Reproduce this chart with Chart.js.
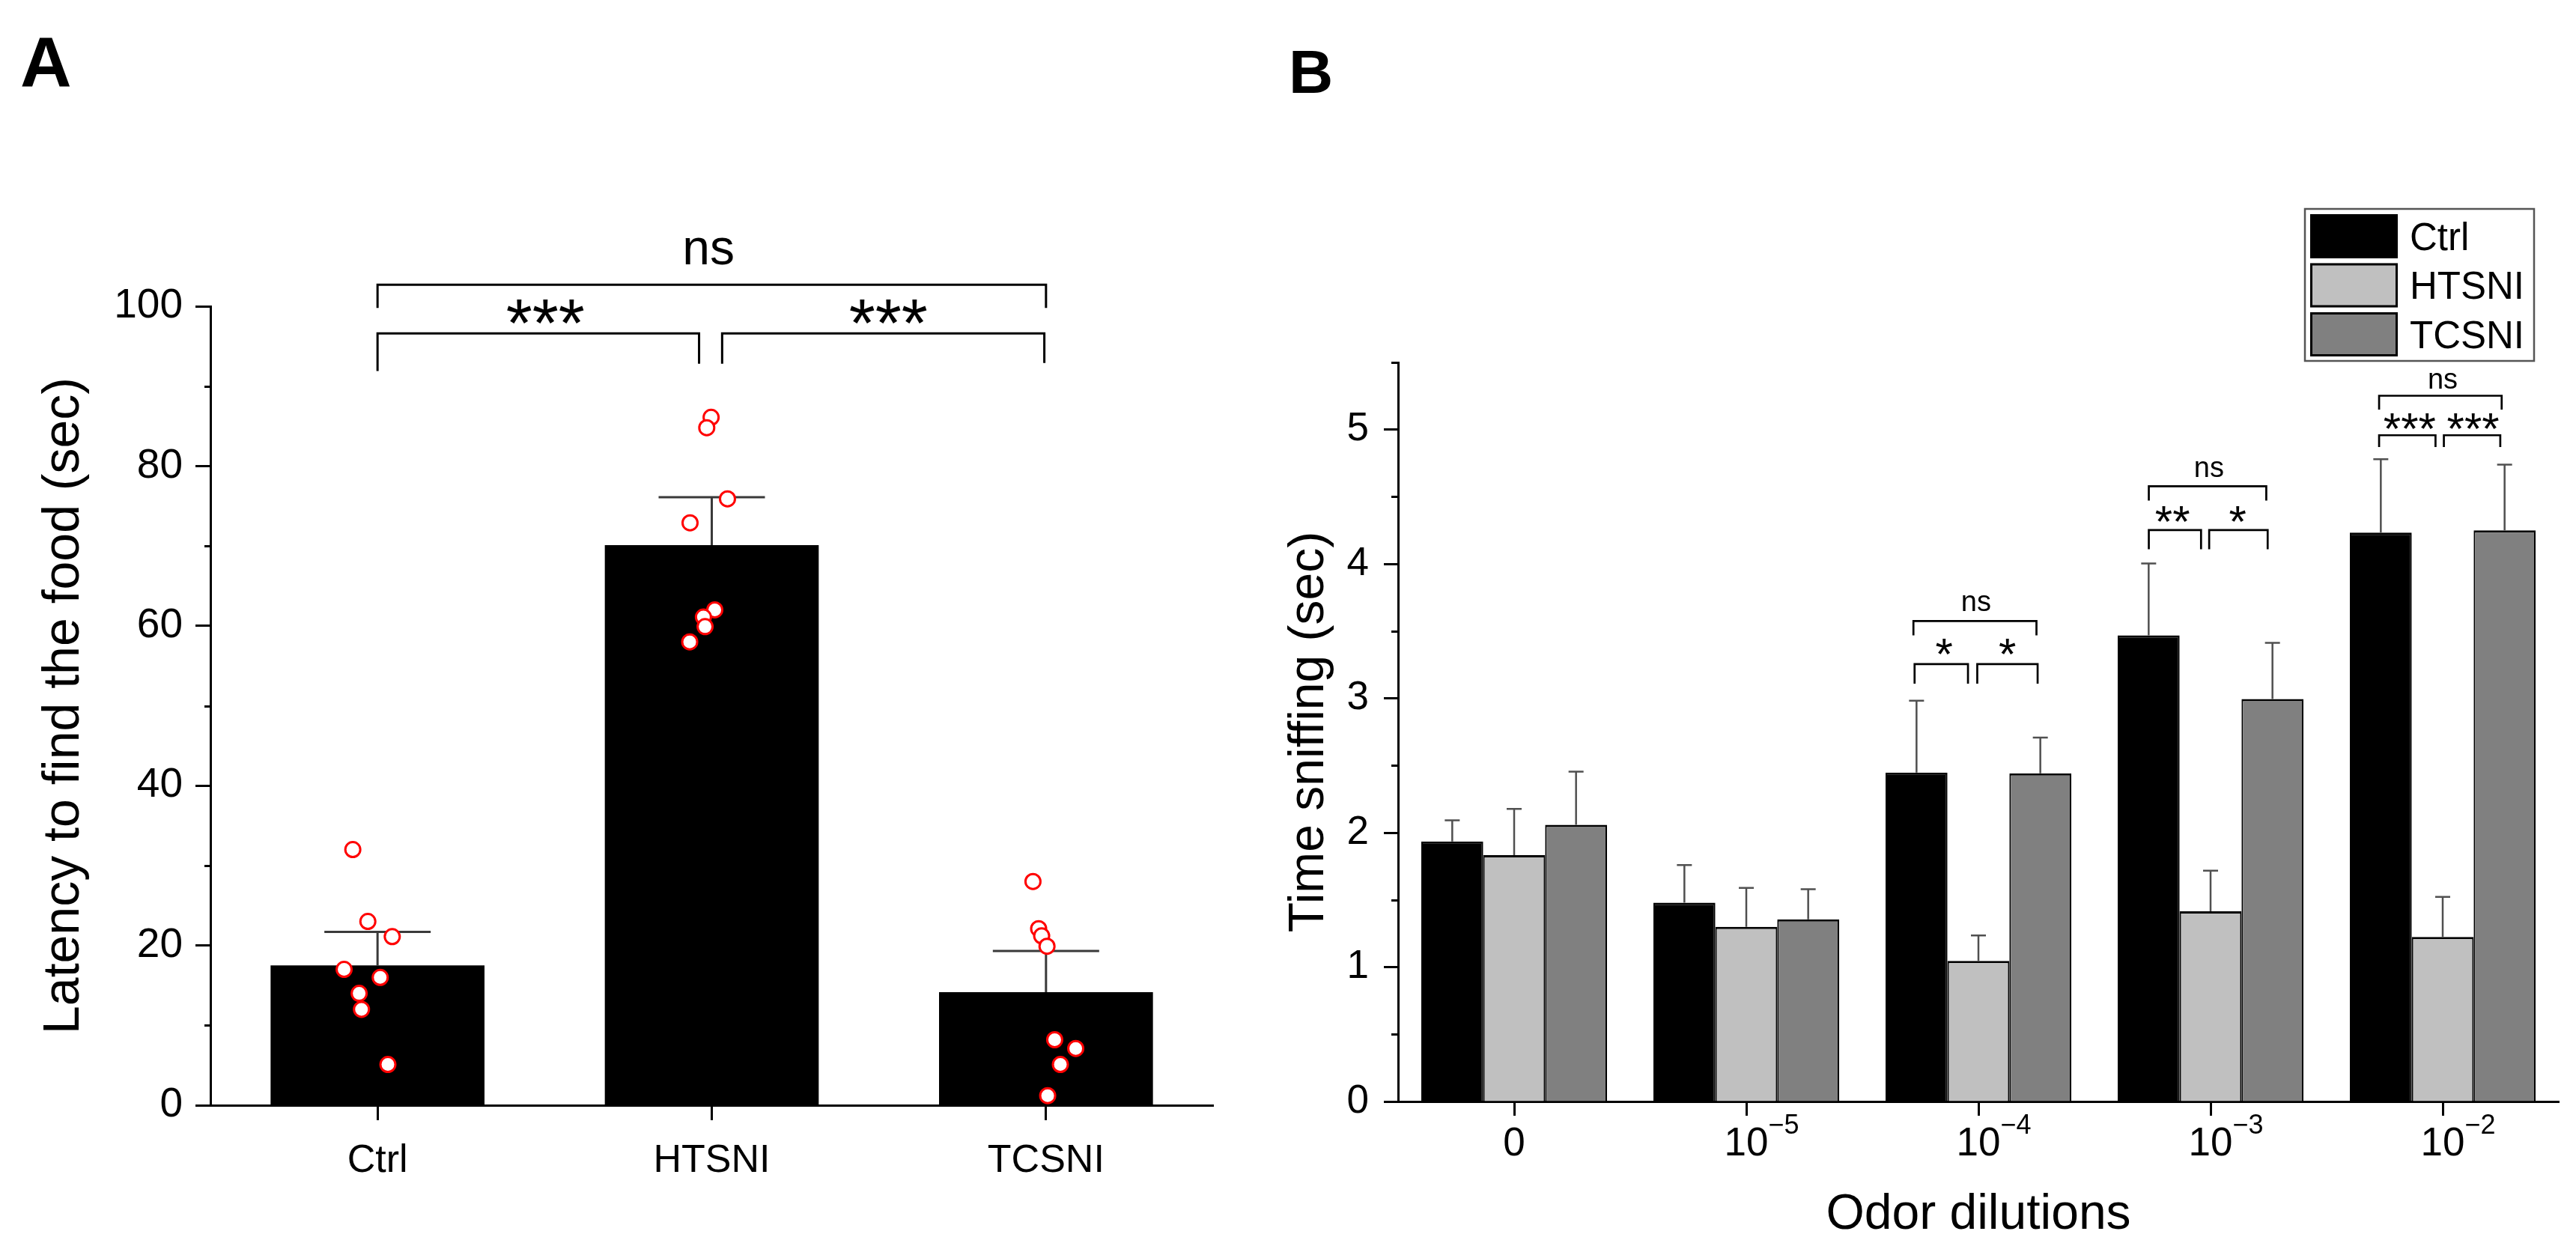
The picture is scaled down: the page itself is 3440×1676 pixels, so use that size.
<!DOCTYPE html>
<html>
<head>
<meta charset="utf-8">
<script src="https://cdn.jsdelivr.net/npm/chart.js@4.4.1/dist/chart.umd.min.js"></script>
<style>
html, body { margin: 0; padding: 0; background: #fff; overflow: hidden; }
#ca { position: absolute; left: 0; top: 0; }
#cb { position: absolute; left: 1700px; top: 0; }
</style>
</head>
<body>
<canvas id="ca" width="1700" height="1676"></canvas>
<canvas id="cb" width="1740" height="1676"></canvas>
<script>
const FONT = "'Liberation Sans', Arial, Helvetica, sans-serif";

// ---------- Panel A data ----------
const groupsA = ['Ctrl', 'HTSNI', 'TCSNI'];
const meanA = [17.5, 70.1, 14.15];
const semA = [4.2, 6.0, 5.15];
const yTicksA = [0, 20, 40, 60, 80, 100];
const ctrlPts = [32.0, 23.0, 21.1, 17.0, 16.0, 14.0, 12.0, 5.1];
const ctrlJit = [-0.074, -0.029, 0.044, -0.10, 0.008, -0.055, -0.048, 0.031];
const htsniPts = [86.1, 84.8, 75.9, 72.9, 62.0, 61.1, 59.9, 58.0];
const htsniJit = [-0.002, -0.015, 0.047, -0.065, 0.009, -0.025, -0.02, -0.066];
const tcsniPts = [28.0, 22.1, 21.2, 19.9, 8.2, 7.1, 5.1, 1.2];
const tcsniJit = [-0.039, -0.022, -0.013, 0.003, 0.026, 0.089, 0.043, 0.005];
// significance brackets: [x1, x2, y, leftLegEnd, rightLegEnd]
const bracketsA = [[0, 2, 102.7, 99.8, 99.8], [0, 0.962, 96.6, 91.9, 92.8], [1.031, 1.995, 96.6, 92.8, 92.9]];
const sigTextA = [['ns', 0.99, 106.9, 'ns'], ['***', 0.502, 99.3, 'star'], ['***', 1.528, 99.3, 'star']];

// ---------- Panel B data ----------
const dilBase = ['0', '10', '10', '10', '10'];
const dilExp = ['', '\u22125', '\u22124', '\u22123', '\u22122'];
const seriesB = ['Ctrl', 'HTSNI', 'TCSNI'];
const ctrlB = [1.935, 1.479, 2.447, 3.469, 4.233];
const ctrlSemB = [0.158, 0.281, 0.535, 0.535, 0.547];
const htsniB = [1.833, 1.30, 1.046, 1.415, 1.225];
const htsniSemB = [0.345, 0.29, 0.19, 0.303, 0.297];
const tcsniB = [2.059, 1.356, 2.442, 2.995, 4.25];
const tcsniSemB = [0.396, 0.224, 0.266, 0.418, 0.49];
const yTicksB = [0, 1, 2, 3, 4, 5];
// [group, dx1, dx2, y, legEnd]
const bracketsB = [
  [2, -0.28, 0.25, 3.575, 3.469], [2, -0.275, -0.045, 3.255, 3.11], [2, -0.005, 0.255, 3.255, 3.11],
  [3, -0.266, 0.24, 4.578, 4.472], [3, -0.266, -0.041, 4.252, 4.11], [3, -0.006, 0.246, 4.252, 4.11],
  [4, -0.274, 0.254, 5.252, 5.149], [4, -0.274, -0.031, 4.958, 4.871], [4, 0.005, 0.248, 4.958, 4.871]
];
const sigTextB = [
  ['ns', 1.99, 3.706, 'ns'], ['*', 1.852, 3.385, 'star'], ['*', 2.125, 3.385, 'star'],
  ['ns', 2.993, 4.704, 'ns'], ['**', 2.836, 4.369, 'star'], ['*', 3.117, 4.369, 'star'],
  ['ns', 4.0, 5.365, 'ns'], ['***', 3.8575, 5.06, 'star'], ['***', 4.131, 5.06, 'star']
];

function pts(vals, jit, idx) { return vals.map((v, i) => ({ x: idx + jit[i], y: v })); }
const pointsA = [].concat(pts(ctrlPts, ctrlJit, 0), pts(htsniPts, htsniJit, 1), pts(tcsniPts, tcsniJit, 2));

function inkText(ctx, text, x, yc, font) {
  ctx.font = font;
  ctx.textAlign = 'center';
  ctx.textBaseline = 'alphabetic';
  const m = ctx.measureText(text);
  ctx.fillText(text, x, yc + (m.actualBoundingBoxAscent - m.actualBoundingBoxDescent) / 2);
}
function bracket(ctx, x1, x2, y, l1, l2) {
  ctx.beginPath();
  ctx.moveTo(x1, l1); ctx.lineTo(x1, y); ctx.lineTo(x2, y); ctx.lineTo(x2, l2);
  ctx.stroke();
}
function minorTicks(ctx, chart, vals, len, lw) {
  const ys = chart.scales.y, left = chart.chartArea.left;
  ctx.save();
  ctx.strokeStyle = '#000'; ctx.lineWidth = lw;
  ctx.beginPath();
  vals.forEach(v => { const p = Math.round(ys.getPixelForValue(v)) + 0.5; ctx.moveTo(left - len, p); ctx.lineTo(left, p); });
  ctx.stroke();
  ctx.restore();
}

// ---------- Panel A ----------
const pluginA = {
  id: 'panelA',
  afterDatasetDraw(chart, args) {
    if (args.index !== 0) return;
    const ctx = chart.ctx, ys = chart.scales.y;
    ctx.save();
    ctx.strokeStyle = '#3a3a3a'; ctx.lineWidth = 3;
    args.meta.data.forEach((bar, j) => {
      const top = ys.getPixelForValue(meanA[j] + semA[j]);
      ctx.beginPath();
      ctx.moveTo(bar.x, bar.y); ctx.lineTo(bar.x, top);
      ctx.moveTo(bar.x - 71, top); ctx.lineTo(bar.x + 71, top);
      ctx.stroke();
    });
    ctx.restore();
  },
  afterDraw(chart) {
    const ctx = chart.ctx, xs = chart.scales.x, ys = chart.scales.y;
    const mids = [];
    for (let i = 0; i < yTicksA.length - 1; i++) mids.push((yTicksA[i] + yTicksA[i + 1]) / 2);
    minorTicks(ctx, chart, mids, 8, 3);
    ctx.save();
    ctx.strokeStyle = '#000'; ctx.lineWidth = 3; ctx.lineJoin = 'miter'; ctx.lineCap = 'butt';
    bracketsA.forEach(b => bracket(ctx, xs.getPixelForValue(b[0]), xs.getPixelForValue(b[1]),
      ys.getPixelForValue(b[2]), ys.getPixelForValue(b[3]), ys.getPixelForValue(b[4])));
    ctx.fillStyle = '#000';
    sigTextA.forEach(t => inkText(ctx, t[0], xs.getPixelForValue(t[1]), ys.getPixelForValue(t[2]),
      (t[3] === 'ns' ? '66px ' : '90px ') + FONT));
    ctx.font = 'bold 95px ' + FONT;
    ctx.textAlign = 'left'; ctx.textBaseline = 'alphabetic';
    ctx.fillText('A', 27, 116);
    ctx.restore();
  }
};

const axisGrid = (len) => ({ display: true, offset: false, drawOnChartArea: false, drawTicks: true, tickLength: len, tickWidth: 3, tickColor: '#000' });
const axisBorder = { display: true, color: '#000', width: 3 };

new Chart(document.getElementById('ca'), {
  type: 'bar',
  data: {
    labels: groupsA,
    datasets: [
      { type: 'bar', label: 'Mean', data: meanA, backgroundColor: '#000', borderWidth: 0, xAxisID: 'x', yAxisID: 'y',
        order: 2, grouped: false, categoryPercentage: 0.8, barPercentage: 0.8 },
      { type: 'scatter', label: 'Animals', data: pointsA, xAxisID: 'xj', yAxisID: 'y', order: 1, showLine: false,
        pointRadius: 10, pointHoverRadius: 10, pointBorderWidth: 3, pointBackgroundColor: '#fff', pointBorderColor: '#ff0000' }
    ]
  },
  options: {
    responsive: false, animation: false, devicePixelRatio: 1, events: [],
    layout: { padding: { left: 0, right: 80, top: 409, bottom: 0 } },
    plugins: { legend: { display: false }, tooltip: { enabled: false } },
    scales: {
      x: { type: 'category', offset: true, grid: axisGrid(20), border: axisBorder,
        ticks: { color: '#000', font: { family: FONT, size: 52 }, padding: 23, maxRotation: 0 },
        afterFit: s => { s.height = 200; } },
      xj: { type: 'linear', display: false, offset: false, min: -0.5, max: 2.5, grid: { offset: false } },
      y: { type: 'linear', min: 0, max: 100,
        afterBuildTicks: s => { s.ticks = yTicksA.map(v => ({ value: v })); },
        grid: axisGrid(20), border: axisBorder,
        ticks: { color: '#000', font: { family: FONT, size: 55 }, padding: 17 },
        title: { display: true, text: 'Latency to find the food (sec)', color: '#000', font: { family: FONT, size: 68 }, padding: { top: 45, bottom: 0 } },
        afterFit: s => { s.width = 281; } }
    }
  },
  plugins: [pluginA]
});

// ---------- Panel B ----------
const semB = [ctrlSemB, htsniSemB, tcsniSemB];
const pluginB = {
  id: 'panelB',
  afterDatasetsDraw(chart) {
    const ctx = chart.ctx, ys = chart.scales.y;
    ctx.save();
    ctx.strokeStyle = '#505050'; ctx.lineWidth = 2.5;
    chart.data.datasets.forEach((ds, i) => {
      chart.getDatasetMeta(i).data.forEach((bar, j) => {
        const top = ys.getPixelForValue(ds.data[j] + semB[i][j]);
        ctx.beginPath();
        ctx.moveTo(bar.x, bar.y); ctx.lineTo(bar.x, top);
        ctx.moveTo(bar.x - 10, top); ctx.lineTo(bar.x + 10, top);
        ctx.stroke();
      });
    });
    ctx.restore();
  },
  afterDraw(chart) {
    const ctx = chart.ctx, xs = chart.scales.x, ys = chart.scales.y;
    const mids = [];
    for (let i = 0; i < yTicksB.length; i++) mids.push(yTicksB[i] + 0.5);
    minorTicks(ctx, chart, mids, 9, 3);
    ctx.save();
    // superscripts of the dilution labels
    const items = xs.getLabelItems();
    ctx.fillStyle = '#000';
    dilExp.forEach((e, i) => {
      if (!e) return;
      ctx.font = '53px ' + FONT;
      ctx.textBaseline = 'middle';
      const mBase = ctx.measureText(dilBase[i]);
      const it = items[i];
      const mid = it.options.translation[1] + it.textOffset;
      const baseline = mid + ctx.measureText('0').actualBoundingBoxDescent;
      ctx.font = '36px ' + FONT;
      ctx.textAlign = 'left'; ctx.textBaseline = 'alphabetic';
      ctx.fillText(e, xs.getPixelForValue(i) + mBase.width / 2, baseline - 30);
    });
    // brackets
    ctx.strokeStyle = '#000'; ctx.lineWidth = 2.7; ctx.lineJoin = 'miter'; ctx.lineCap = 'butt';
    bracketsB.forEach(b => bracket(ctx, xs.getPixelForValue(b[0] + b[1]), xs.getPixelForValue(b[0] + b[2]),
      ys.getPixelForValue(b[3]), ys.getPixelForValue(b[4]), ys.getPixelForValue(b[4])));
    sigTextB.forEach(t => inkText(ctx, t[0], xs.getPixelForValue(t[1]), ys.getPixelForValue(t[2]),
      (t[3] === 'ns' ? '38px ' : '60px ') + FONT));
    // legend
    const lx = 3078 - 1700, ly = 279, lw = 306, lh = 203;
    ctx.strokeStyle = '#555'; ctx.lineWidth = 2.5;
    ctx.strokeRect(lx, ly, lw, lh);
    chart.data.datasets.forEach((ds, i) => {
      const sy = 286 + i * 65.5;
      ctx.fillStyle = ds.backgroundColor;
      ctx.fillRect(lx + 7, sy, 117, 59);
      ctx.strokeStyle = '#000'; ctx.lineWidth = 3;
      ctx.strokeRect(lx + 8.5, sy + 1.5, 114, 56);
      ctx.fillStyle = '#000';
      ctx.font = '51px ' + FONT;
      ctx.textAlign = 'left'; ctx.textBaseline = 'alphabetic';
      const m = ctx.measureText(ds.label);
      ctx.fillText(ds.label, lx + 140, sy + 29.5 + (m.actualBoundingBoxAscent - m.actualBoundingBoxDescent) / 2);
    });
    ctx.fillStyle = '#000';
    ctx.font = 'bold 82px ' + FONT;
    ctx.textAlign = 'left'; ctx.textBaseline = 'alphabetic';
    ctx.fillText('B', 21, 124);
    ctx.restore();
  }
};

const barBorder = { top: 3, left: 2, right: 2, bottom: 0 };
new Chart(document.getElementById('cb'), {
  type: 'bar',
  data: {
    labels: dilBase,
    datasets: [
      { label: seriesB[0], data: ctrlB, backgroundColor: '#000000', borderColor: '#000', borderWidth: barBorder, borderSkipped: false, categoryPercentage: 0.8, barPercentage: 1.0 },
      { label: seriesB[1], data: htsniB, backgroundColor: '#c0c0c0', borderColor: '#000', borderWidth: barBorder, borderSkipped: false, categoryPercentage: 0.8, barPercentage: 1.0 },
      { label: seriesB[2], data: tcsniB, backgroundColor: '#808080', borderColor: '#000', borderWidth: barBorder, borderSkipped: false, categoryPercentage: 0.8, barPercentage: 1.0 }
    ]
  },
  options: {
    responsive: false, animation: false, devicePixelRatio: 1, events: [],
    layout: { padding: { left: 0, right: 23, top: 484, bottom: 5 } },
    plugins: { legend: { display: false }, tooltip: { enabled: false } },
    scales: {
      x: { type: 'category', offset: true, grid: axisGrid(19), border: axisBorder,
        ticks: { color: '#000', font: { family: FONT, size: 53 }, padding: 7, maxRotation: 0, autoSkip: false },
        title: { display: true, text: 'Odor dilutions', color: '#000', font: { family: FONT, size: 66 }, padding: { top: 0, bottom: 9 } },
        afterFit: s => { s.height = 200; } },
      y: { type: 'linear', min: 0, max: 5.5,
        afterBuildTicks: s => { s.ticks = yTicksB.map(v => ({ value: v })); },
        grid: axisGrid(19), border: axisBorder,
        ticks: { color: '#000', font: { family: FONT, size: 53 }, padding: 20 },
        title: { display: true, text: 'Time sniffing (sec)', color: '#000', font: { family: FONT, size: 66 }, padding: { top: 9, bottom: 0 } },
        afterFit: s => { s.width = 167; } }
    }
  },
  plugins: [pluginB]
});
</script>
</body>
</html>
